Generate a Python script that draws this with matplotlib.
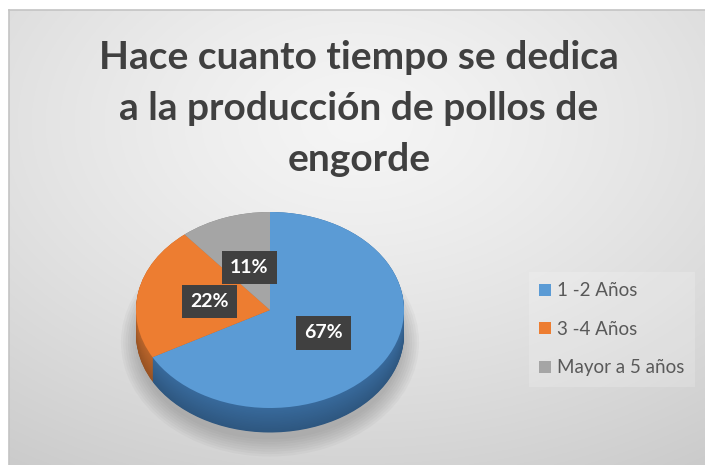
import matplotlib
matplotlib.use('Agg')
import matplotlib.pyplot as plt
import numpy as np
from matplotlib.patches import Ellipse

categories = ['1 -2 Años', '3 -4 Años', 'Mayor a 5 años']
values = [67, 22, 11]
title_lines = ['Hace cuanto tiempo se dedica', 'a la producción de pollos de', 'engorde']

top_colors = ['#5b9bd5', '#ed7d31', '#a5a5a5']
side_colors = ['#386a9c', '#b9652b', '#808080']

W, H = 705, 465
fig = plt.figure(figsize=(W / 100, H / 100), dpi=100)
fig.patch.set_facecolor('white')

# background gradient panel
bg = fig.add_axes([9 / W, 0, (W - 9) / W, (H - 10) / H])
yy, xx = np.mgrid[0:1:300j, 0:1:450j]
d = np.sqrt(((xx - 0.5) / 0.8) ** 2 + ((yy - 0.25) / 0.8) ** 2)
val = np.clip(0.96 - 0.14 * d ** 1.3, 0, 1)
bg.imshow(np.dstack([val, val, val]), aspect='auto', extent=(0, 1, 0, 1), origin='upper')
bg.set_xticks([]); bg.set_yticks([])
for s in ['right', 'bottom']:
    bg.spines[s].set_visible(False)
for s in ['top', 'left']:
    bg.spines[s].set_color('#c4c4c4')
    bg.spines[s].set_linewidth(1.2)

# pie axes
rx, ry = 134, 98
cxp, cyp = 270, H - 310
ax = fig.add_axes([(cxp - 1.25 * rx) / W, (cyp - 1.6 * ry) / H, 2.5 * rx / W, 2.85 * ry / H])
ax.set_facecolor('none')
ax.patch.set_alpha(0)

# soft shadow
for k in range(8):
    ax.add_patch(Ellipse((0.0, -0.33), 1.98 + 0.035 * k, 1.98 + 0.05 * k,
                         facecolor='#707070', edgecolor='none', alpha=0.06, zorder=0))

depth = 0.25
n = 36
for i, t in enumerate(np.linspace(depth, 0.0, n)):
    f = 0.82 + 0.18 * i / (n - 1)
    cols = []
    for c in side_colors:
        rgb = np.array(matplotlib.colors.to_rgb(c)) * f
        cols.append(tuple(np.clip(rgb, 0, 1)))
    w, _ = ax.pie(values, colors=cols, startangle=90, counterclock=False,
                  center=(0, -t), wedgeprops=dict(linewidth=0))
    for p in w:
        p.set_zorder(1)

wedges, texts, autotexts = ax.pie(values, colors=top_colors, startangle=90, counterclock=False,
                                  autopct=lambda p: f'{p:.0f}%', pctdistance=0.46,
                                  wedgeprops=dict(linewidth=0))
for p in wedges:
    p.set_zorder(2)
for t in autotexts:
    t.set_color('white')
    t.set_fontsize(14)
    t.set_fontweight('bold')
    t.set_family('Lato')
    t.set_zorder(5)
    t.set_bbox(dict(boxstyle='square,pad=0.42', facecolor='#404040', edgecolor='none'))

ax.set_aspect('auto')
ax.set_xlim(-1.25, 1.25)
ax.set_ylim(-1.6, 1.25)
ax.axis('off')

for line, yb in zip(title_lines, [69, 120, 171]):
    fig.text(359 / W, 1 - yb / H, line, ha='center', va='baseline', fontsize=28,
             fontweight='bold', family='Lato', color='#404040')

leg = fig.legend(wedges, categories, loc='upper left', bbox_to_anchor=(529 / W, 1 - 272 / H),
                 frameon=True, handlelength=0.6, handleheight=0.6, handletextpad=0.35,
                 labelspacing=1.15, fontsize=13.5, borderpad=0.55, borderaxespad=0)
leg.get_frame().set_facecolor('white')
leg.get_frame().set_alpha(0.18)
leg.get_frame().set_edgecolor('none')
leg.get_frame().set_boxstyle('square', pad=0)
for t in leg.get_texts():
    t.set_color('#595959')
    t.set_family('Lato')

fig.savefig('out.png', dpi=100)
